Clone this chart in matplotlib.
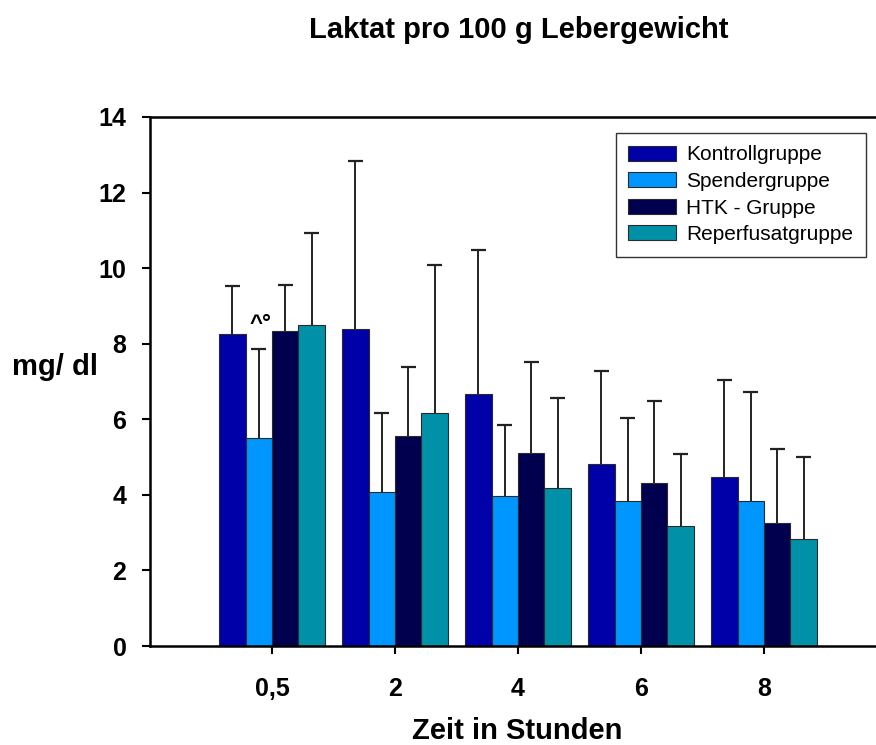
import matplotlib
matplotlib.use("Agg")
import matplotlib.pyplot as plt
import numpy as np

plt.rcParams['font.family'] = ['Liberation Sans', 'DejaVu Sans']

# Data
zeiten = ['0,5', '2', '4', '6', '8']
gruppen = ['Kontrollgruppe', 'Spendergruppe', 'HTK - Gruppe', 'Reperfusatgruppe']
mittel = {
    'Kontrollgruppe':   [8.26, 8.39, 6.67, 4.82, 4.47],
    'Spendergruppe':    [5.50, 4.08, 3.97, 3.84, 3.84],
    'HTK - Gruppe':     [8.34, 5.56, 5.11, 4.31, 3.25],
    'Reperfusatgruppe': [8.49, 6.17, 4.18, 3.18, 2.83],
}
# upper end of error bars
oben = {
    'Kontrollgruppe':   [9.53, 12.83, 10.48, 7.28, 7.04],
    'Spendergruppe':    [7.86, 6.17, 5.85, 6.03, 6.72],
    'HTK - Gruppe':     [9.55, 7.38, 7.52, 6.48, 5.21],
    'Reperfusatgruppe': [10.93, 10.08, 6.56, 5.08, 5.00],
}
farben = ['#0000A8', '#0096FF', '#00004F', '#0091A8']

fig = plt.figure(figsize=(8.76, 7.45), dpi=100)
ax = fig.add_axes([150/876, 1-646/745, 1-150/876, (646-117)/745])

x = np.arange(len(zeiten))
w = 0.215
cap = 0.06
for i, g in enumerate(gruppen):
    pos = x + (i - 1.5) * w
    val = np.array(mittel[g])
    top = np.array(oben[g])
    ax.bar(pos, val, w, color=farben[i], edgecolor='#2a2a2a', linewidth=0.8,
           label=g, zorder=2)
    # only the upper half of the error bar
    ax.vlines(pos, val, top, color='#222222', linewidth=1.4, zorder=1)
    ax.hlines(top, pos - cap, pos + cap, color='#222222', linewidth=1.6, zorder=1)

ax.text(x[0] - 0.45 * w, 8.22, '^°', fontsize=16, fontweight='bold',
        ha='center', va='bottom')

ax.set_xlim(-0.992, 4.911)
ax.set_ylim(0, 14)
ax.set_yticks(np.arange(0, 15, 2))
ax.set_xticks(x)
ax.set_xticklabels(zeiten)
for lab in ax.get_xticklabels() + ax.get_yticklabels():
    lab.set_fontweight('bold')
    lab.set_fontsize(18)
ax.tick_params(axis='x', direction='out', length=6, width=1.5, pad=16)
ax.tick_params(axis='y', direction='out', length=6, width=1.5, pad=11)
for s in ['left', 'bottom', 'top']:
    ax.spines[s].set_linewidth(1.8)
ax.spines['right'].set_visible(False)

leg = ax.legend(loc='upper right', bbox_to_anchor=(866/876, 1-133/745),
                bbox_transform=fig.transFigure, borderaxespad=0,
                fontsize=15, fancybox=False, edgecolor='#333333',
                framealpha=1, handlelength=2.3, handleheight=0.75,
                labelspacing=0.36, borderpad=0.6, handletextpad=0.5)
leg.get_frame().set_linewidth(1.0)

fig.text(0.592, 1-30/745, 'Laktat pro 100 g Lebergewicht', fontsize=21,
         fontweight='bold', ha='center', va='center')
fig.text(55/876, 1-367/745, 'mg/ dl', fontsize=21, fontweight='bold',
         ha='center', va='center')
fig.text(517/876, 1-731/745, 'Zeit in Stunden', fontsize=21, fontweight='bold',
         ha='center', va='center')

fig.savefig('out.png', dpi=100)
